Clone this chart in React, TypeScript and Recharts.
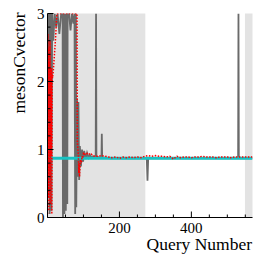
import React from 'react';
import { ComposedChart, Line, XAxis, YAxis, ReferenceArea } from 'recharts';

// query numbers / fitted values
const greyQuery = [
  0, 2, 4, 6, 8, 11, 13, 16, 20, 24, 28, 33, 38, 42, 43, 45, 47, 49, 51, 53, 55, 56,
  60, 64, 68, 72, 75, 77, 79, 80, 82, 84, 86, 88, 90, 93, 96, 99, 102, 106, 110, 114,
  118, 122, 126, 130, 134, 135, 136, 140, 146, 150, 151, 152, 160, 175, 190, 205, 220,
  235, 250, 265, 276, 278, 280, 300, 320, 340, 360, 380, 400, 420, 440, 460, 480, 500,
  520, 530, 531, 532, 550, 570,
];
const greyValue = [
  3, 1.5, 3, 0.05, 3, 0.1, 3, 2.6, 3, 2.8, 3, 2.7, 3, 3, 0, 3, 0.05, 3, 0.1, 3, 0.2, 3,
  3, 2.75, 3, 2.85, 3, 0.05, 3, 0.15, 1.75, 0.6, 1.7, 0.55, 1.05, 0.75, 1.0, 0.82, 0.98, 0.86, 0.95, 0.88,
  0.92, 0.88, 0.9, 0.89, 0.88, 3, 0.88, 0.89, 0.88, 0.88, 1.23, 0.88, 0.88, 0.87, 0.87, 0.87, 0.87,
  0.87, 0.87, 0.87, 0.87, 0.54, 0.87, 0.87, 0.87, 0.87, 0.87, 0.87, 0.87, 0.87, 0.87, 0.87, 0.87, 0.87,
  0.87, 0.87, 3, 0.87, 0.87, 0.87,
];

const redQuery = [
  0, 1, 2, 3, 4, 5, 6, 7, 8, 9, 10, 11, 12, 13, 14, 16, 18, 20, 22, 24, 26, 82, 83, 84,
  86, 87, 88, 89, 90, 92, 94, 96, 98, 100, 103, 106, 110, 114, 118, 122, 126, 132, 140,
  150, 160, 170, 180, 190, 200, 210, 220, 230, 240, 250, 260, 270, 280, 290, 300, 310,
  320, 330, 340, 350, 360, 370, 380, 390, 400, 410, 420, 430, 440, 450, 460, 470, 480,
  490, 500, 510, 520, 530, 540, 550, 560, 570,
];
const redValue = [
  0.05, 2.7, 0.3, 2.5, 0.1, 2.3, 0.6, 2.6, 0.2, 2.0, 0.9, 2.2, 0.05, 2.1, 2.05, 2.15, 2.3, 2.45, 2.6, 2.8, 3, 3, 1.1, 1.05,
  0.9, 0.65, 0.8, 0.6, 0.7, 0.85, 0.8, 0.9, 0.87, 0.94, 0.92, 0.95, 0.94, 0.95, 0.92, 0.93, 0.91, 0.9, 0.9,
  0.91, 0.9, 0.89, 0.88, 0.89, 0.87, 0.89, 0.88, 0.89, 0.88, 0.89, 0.88, 0.9, 0.91, 0.9, 0.91, 0.9,
  0.9, 0.89, 0.9, 0.86, 0.9, 0.88, 0.89, 0.89, 0.88, 0.89, 0.89, 0.9, 0.89, 0.89, 0.89, 0.88, 0.89,
  0.89, 0.89, 0.88, 0.89, 0.89, 0.89, 0.89, 0.89, 0.89,
];

const cyanLevel = 0.87;
const queryRange = [0, 570];
const shadedFrom = [0, 549];
const shadedTo = [272, 570];

const queryTicks = [0, 50, 100, 150, 200, 250, 300, 350, 400, 450, 500, 550];
const queryLabels = [200, 400];
const valueTicks = [0, 0.2, 0.4, 0.6, 0.8, 1, 1.2, 1.4, 1.6, 1.8, 2, 2.2, 2.4, 2.6, 2.8, 3];
const valueLabels = [0, 1, 2, 3];

const greyData = greyQuery.map((q, i) => ({ x: q, y: greyValue[i] }));
const redData = redQuery.map((q, i) => ({ x: q, y: redValue[i] }));
const cyanData = queryRange.map(q => ({ x: q, y: cyanLevel }));

const serif = { fontFamily: "'Liberation Serif', serif" };
const isMajorX = (v: number) => v % 200 === 0;
const isMajorY = (v: number) => Math.abs(v - Math.round(v)) < 1e-6;

const BottomTick = ({ x, y, payload }: any) => {
  const v = payload.value;
  return (
    <g>
      <line x1={x} x2={x} y1={y} y2={y - (isMajorX(v) ? 6 : 3)} stroke="#000" />
      {queryLabels.includes(v) && (
        <text x={x} y={y + 15} textAnchor="middle" fontSize={15} style={serif} fill="#000">{v}</text>
      )}
    </g>
  );
};

const TopTick = ({ x, y, payload }: any) => (
  <line x1={x} x2={x} y1={y} y2={y + (isMajorX(payload.value) ? 6 : 3)} stroke="#000" />
);

const LeftTick = ({ x, y, payload }: any) => {
  const v = payload.value;
  const label = valueLabels.find(l => Math.abs(l - v) < 1e-6);
  return (
    <g>
      <line x1={x} x2={x + (isMajorY(v) ? 6 : 3)} y1={y} y2={y} stroke="#000" />
      {label !== undefined && (
        <text x={x - 3} y={y + 5} textAnchor="end" fontSize={15} style={serif} fill="#000">{label}</text>
      )}
    </g>
  );
};

const RightTick = ({ x, y, payload }: any) => (
  <line x1={x} x2={x - (isMajorY(payload.value) ? 6 : 3)} y1={y} y2={y} stroke="#000" />
);

export default function App() {
  return (
    <div style={{ position: 'absolute', left: 0, top: 0, background: '#fff' }}>
      <ComposedChart width={266} height={260} margin={{ top: 13.5, right: 13.5, bottom: 0, left: 0 }}>
        <XAxis dataKey="x" type="number" domain={queryRange} allowDataOverflow ticks={queryTicks} interval={0}
          height={42.5} tickSize={0} tickMargin={0} tickLine={false} axisLine={{ stroke: '#000' }}
          tick={(p: any) => <BottomTick {...p} />} />
        <XAxis xAxisId="top" orientation="top" dataKey="x" type="number" domain={queryRange} allowDataOverflow
          ticks={queryTicks} interval={0} height={0} tickSize={0} tickMargin={0} tickLine={false}
          axisLine={{ stroke: '#000' }} tick={(p: any) => <TopTick {...p} />} />
        <YAxis type="number" domain={[0, 3]} allowDataOverflow ticks={valueTicks} interval={0} width={47.5}
          tickSize={0} tickMargin={0} tickLine={false} axisLine={{ stroke: '#000' }}
          tick={(p: any) => <LeftTick {...p} />} />
        <YAxis yAxisId="right" orientation="right" type="number" domain={[0, 3]} allowDataOverflow ticks={valueTicks}
          interval={0} width={0} tickSize={0} tickMargin={0} tickLine={false} axisLine={{ stroke: '#000' }}
          tick={(p: any) => <RightTick {...p} />} />
        {shadedFrom.map((f, i) => (
          <ReferenceArea key={i} x1={f} x2={shadedTo[i]} y1={0} y2={3} fill="#e3e3e3" fillOpacity={1} stroke="none" />
        ))}
        <Line data={greyData} dataKey="y" type="linear" stroke="#6a6a6a" strokeWidth={1.8} dot={false} isAnimationActive={false} />
        <Line data={cyanData} dataKey="y" type="linear" stroke="#19c3c3" strokeWidth={3} dot={false} isAnimationActive={false} />
        <Line data={redData} dataKey="y" type="linear" stroke="#ff0000" strokeWidth={1.5} strokeDasharray="1.5 1.5" dot={false} isAnimationActive={false} />
        <text x={252} y={250} textAnchor="end" fontSize={17.5} style={serif} fill="#000">Query Number</text>
        <text x={25} y={63} textAnchor="middle" fontSize={17.5} style={serif} fill="#000" transform="rotate(-90, 25, 63)">mesonCvector</text>
      </ComposedChart>
    </div>
  );
}
